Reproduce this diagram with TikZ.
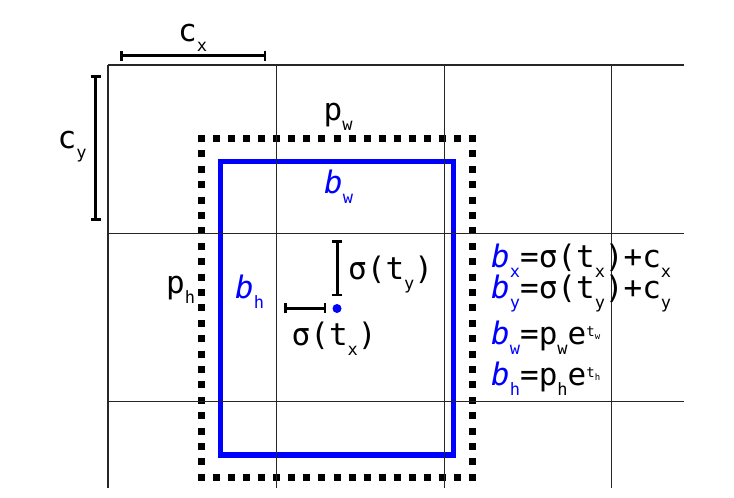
\documentclass[tikz,border=0pt]{standalone}
\usepackage{fontspec}
\setmainfont{DejaVu Sans Mono}
\usetikzlibrary{arrows.meta}
\newcommand\lo[1]{\raisebox{-10pt}{\fontsize{17}{17}\selectfont #1}}
\newcommand\ex[1]{\raisebox{8pt}{\fontsize{14}{14}\selectfont t\raisebox{-3pt}{\fontsize{9}{9}\selectfont #1}}}
\newcommand\bb[1]{{\color{blue}\textit{b}\lo{#1}}}
\begin{document}
\begin{tikzpicture}[x=1pt,y=-1pt,
  gridline/.style={draw=black!85,line width=1.1pt},
  dimbar/.style={draw=black,line width=2.5pt,{Bar[width=10pt]}-{Bar[width=10pt]}},
  dotside/.style={draw=black,line width=7pt},
  bluebox/.style={draw=blue,line width=5.5pt},
  lab/.style={inner sep=0pt,anchor=base west,font=\fontsize{31}{36}\selectfont}]
\useasboundingbox (0,0) rectangle (734,498);
% dotted prior box
\draw[dotside,dash pattern=on 7pt off 8.033pt] (198.2,138.5) -- (475.8,138.5);
\draw[dotside,dash pattern=on 7pt off 8.033pt] (198.2,477.3) -- (475.8,477.3);
\draw[dotside,dash pattern=on 7pt off 8.4pt] (201.7,135) -- (201.7,480.8);
\draw[dotside,dash pattern=on 7pt off 8.4pt] (472.3,135) -- (472.3,480.8);
% blue predicted box
\draw[bluebox] (220.5,161.5) rectangle (453.3,455);
% grid
\foreach \x in {108,276.5,444.3,611.7} \draw[gridline] (\x,65) -- (\x,488);
\foreach \y in {65,233.5,401.5} \draw[gridline] (108,\y) -- (684,\y);
% dimension bars
\coordinate (cxa) at (120,55.7);
\coordinate (cxb) at (266,55.7);
\coordinate (cya) at (95.7,75);
\coordinate (cyb) at (95.7,220.7);
\coordinate (tya) at (337.3,240);
\coordinate (tyb) at (337.3,296);
\coordinate (txa) at (284,308.3);
\coordinate (txb) at (326,308.3);
\coordinate (ctr) at (337,308.5);
\draw[dimbar] (cxa) -- (cxb);
\draw[dimbar] (cya) -- (cyb);
\draw[dimbar] (tya) -- (tyb);
\draw[dimbar] (txa) -- (txb);
\fill[blue] (ctr) circle (4.5);
% labels
\node[lab] (lcx) at (178,41.5) {c\lo{x}};
\node[lab] (lcy) at (57.5,148) {c\lo{y}};
\node[lab] (lpw) at (323.5,120.5) {p\lo{w}};
\node[lab] (lbw) at (324,193.3) {\bb{w}};
\node[lab] (lph) at (166,293) {p\lo{h}};
\node[lab] (lbh) at (235,298) {\bb{h}};
\node[lab] (lty) at (348,279) {σ(t\lo{y})};
\node[lab] (ltx) at (291.5,345) {σ(t\lo{x})};
% equations
\node[lab] (eqx) at (491,267) {\bb{x}=σ(t\lo{x})+c\lo{x}};
\node[lab] (eqy) at (491,298) {\bb{y}=σ(t\lo{y})+c\lo{y}};
\node[lab] (eqw) at (491,344) {\bb{w}=p\lo{w}e\ex{w}};
\node[lab] (eqh) at (491,385) {\bb{h}=p\lo{h}e\ex{h}};
\end{tikzpicture}
\end{document}
